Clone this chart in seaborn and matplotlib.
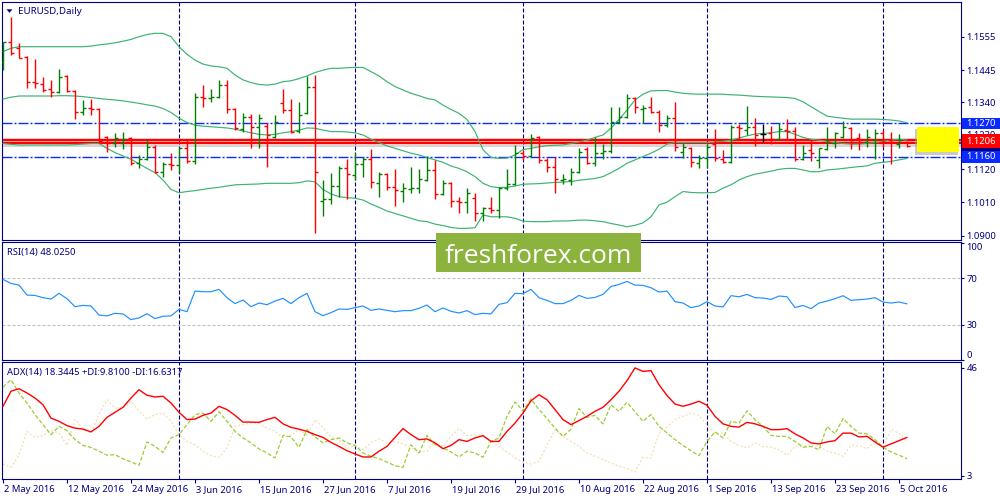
import numpy as np
import pandas as pd
import matplotlib
matplotlib.use("Agg")
import matplotlib.pyplot as plt
import matplotlib.transforms as mtransforms
from matplotlib.patches import Rectangle, Polygon
import seaborn as sns

# ---------------- data ----------------
start_date = "2016-05-02"
symbol_title = "EURUSD,Daily"

opens = [1.1472, 1.1537, 1.1518, 1.1488, 1.1406, 1.1399, 1.1383, 1.1373, 1.1426, 1.1376,
         1.1307, 1.1321, 1.1317, 1.1225, 1.1206, 1.1206, 1.1222, 1.1140, 1.1153, 1.1192,
         1.1110, 1.1137, 1.1133, 1.1189, 1.1146, 1.1357, 1.1353, 1.1357, 1.1396, 1.1317,
         1.1251, 1.1291, 1.1258, 1.1261, 1.1225, 1.1337, 1.1314, 1.1245, 1.1304, 1.1390,
         1.1015, 1.1021, 1.1064, 1.1123, 1.1100, 1.1137, 1.1153, 1.1074, 1.1104, 1.1061,
         1.1048, 1.1054, 1.1058, 1.1084, 1.1117, 1.1038, 1.1074, 1.1015, 1.1012, 1.1025,
         1.0976, 1.0992, 1.0985, 1.1058, 1.1071, 1.1173, 1.1163, 1.1225, 1.1150, 1.1127,
         1.1084, 1.1084, 1.1110, 1.1186, 1.1140, 1.1173, 1.1179, 1.1275, 1.1291, 1.1353,
         1.1317, 1.1324, 1.1307, 1.1265, 1.1288, 1.1176, 1.1189, 1.1140, 1.1156, 1.1202,
         1.1153, 1.1143, 1.1258, 1.1248, 1.1258, 1.1235, 1.1238, 1.1219, 1.1248, 1.1245,
         1.1153, 1.1183, 1.1150, 1.1186, 1.1206, 1.1225, 1.1255, 1.1222, 1.1209, 1.1215,
         1.1238, 1.1215, 1.1202, 1.1209]
highs = [1.1537, 1.1620, 1.1534, 1.1491, 1.1482, 1.1422, 1.1413, 1.1449, 1.1429, 1.1380,
         1.1347, 1.1350, 1.1320, 1.1229, 1.1238, 1.1242, 1.1225, 1.1166, 1.1215, 1.1199,
         1.1143, 1.1173, 1.1192, 1.1219, 1.1370, 1.1396, 1.1383, 1.1413, 1.1413, 1.1321,
         1.1304, 1.1301, 1.1301, 1.1271, 1.1298, 1.1383, 1.1350, 1.1340, 1.1426, 1.1429,
         1.1084, 1.1107, 1.1130, 1.1153, 1.1173, 1.1160, 1.1186, 1.1110, 1.1107, 1.1120,
         1.1074, 1.1127, 1.1120, 1.1163, 1.1150, 1.1084, 1.1077, 1.1028, 1.1058, 1.1041,
         1.0995, 1.1028, 1.1061, 1.1120, 1.1199, 1.1183, 1.1235, 1.1228, 1.1156, 1.1160,
         1.1104, 1.1123, 1.1189, 1.1192, 1.1225, 1.1202, 1.1324, 1.1324, 1.1367, 1.1357,
         1.1331, 1.1357, 1.1314, 1.1298, 1.1340, 1.1206, 1.1192, 1.1166, 1.1202, 1.1252,
         1.1183, 1.1265, 1.1268, 1.1327, 1.1288, 1.1268, 1.1261, 1.1271, 1.1284, 1.1258,
         1.1199, 1.1215, 1.1189, 1.1258, 1.1242, 1.1278, 1.1258, 1.1238, 1.1252, 1.1252,
         1.1248, 1.1242, 1.1235, 1.1212]
lows = [1.1445, 1.1495, 1.1485, 1.1386, 1.1386, 1.1373, 1.1357, 1.1370, 1.1373, 1.1284,
        1.1298, 1.1298, 1.1206, 1.1176, 1.1192, 1.1186, 1.1133, 1.1123, 1.1150, 1.1107,
        1.1094, 1.1117, 1.1107, 1.1140, 1.1137, 1.1324, 1.1340, 1.1355, 1.1304, 1.1248,
        1.1242, 1.1189, 1.1189, 1.1127, 1.1222, 1.1304, 1.1239, 1.1239, 1.1302, 1.0910,
        1.0966, 1.1005, 1.1028, 1.1021, 1.1084, 1.1094, 1.1058, 1.1028, 1.1051, 1.0998,
        1.1012, 1.1041, 1.1041, 1.1082, 1.1021, 1.1035, 1.0995, 1.0976, 1.0976, 1.0949,
        1.0949, 1.0976, 1.0959, 1.1051, 1.1069, 1.1150, 1.1160, 1.1140, 1.1110, 1.1041,
        1.1071, 1.1067, 1.1108, 1.1137, 1.1130, 1.1153, 1.1173, 1.1271, 1.1288, 1.1304,
        1.1271, 1.1304, 1.1242, 1.1258, 1.1179, 1.1156, 1.1127, 1.1123, 1.1123, 1.1146,
        1.1140, 1.1140, 1.1215, 1.1232, 1.1196, 1.1209, 1.1202, 1.1217, 1.1215, 1.1146,
        1.1150, 1.1146, 1.1123, 1.1184, 1.1189, 1.1222, 1.1186, 1.1183, 1.1192, 1.1153,
        1.1192, 1.1137, 1.1189, 1.1192]
closes = [1.1537, 1.1501, 1.1485, 1.1406, 1.1403, 1.1380, 1.1373, 1.1422, 1.1376, 1.1307,
          1.1321, 1.1317, 1.1212, 1.1206, 1.1222, 1.1219, 1.1140, 1.1153, 1.1192, 1.1110,
          1.1137, 1.1133, 1.1189, 1.1146, 1.1357, 1.1355, 1.1357, 1.1396, 1.1317, 1.1255,
          1.1291, 1.1258, 1.1288, 1.1232, 1.1275, 1.1314, 1.1242, 1.1298, 1.1390, 1.1110,
          1.1021, 1.1064, 1.1123, 1.1104, 1.1137, 1.1153, 1.1077, 1.1104, 1.1061, 1.1051,
          1.1058, 1.1058, 1.1087, 1.1117, 1.1038, 1.1074, 1.1015, 1.1012, 1.1041, 1.0976,
          1.0992, 1.0985, 1.1058, 1.1071, 1.1173, 1.1163, 1.1222, 1.1150, 1.1127, 1.1087,
          1.1087, 1.1110, 1.1176, 1.1140, 1.1173, 1.1179, 1.1275, 1.1291, 1.1353, 1.1324,
          1.1321, 1.1307, 1.1265, 1.1288, 1.1192, 1.1192, 1.1143, 1.1156, 1.1192, 1.1156,
          1.1143, 1.1258, 1.1255, 1.1258, 1.1232, 1.1235, 1.1219, 1.1252, 1.1245, 1.1153,
          1.1173, 1.1173, 1.1189, 1.1209, 1.1238, 1.1258, 1.1209, 1.1209, 1.1225, 1.1238,
          1.1209, 1.1209, 1.1215, 1.1196]

bb_upper = [1.1506, 1.1517, 1.1522, 1.1522, 1.1522, 1.1522, 1.1522, 1.1522, 1.1522, 1.1522,
            1.1522, 1.1524, 1.1528, 1.1531, 1.1535, 1.1540, 1.1546, 1.1555, 1.1562, 1.1566,
            1.1566, 1.1555, 1.1522, 1.1497, 1.1478, 1.1465, 1.1459, 1.1456, 1.1451, 1.1429,
            1.1413, 1.1404, 1.1398, 1.1396, 1.1399, 1.1407, 1.1410, 1.1417, 1.1426, 1.1437,
            1.1445, 1.1451, 1.1451, 1.1453, 1.1454, 1.1454, 1.1440, 1.1426, 1.1407, 1.1391,
            1.1380, 1.1369, 1.1361, 1.1352, 1.1347, 1.1330, 1.1316, 1.1303, 1.1283, 1.1243,
            1.1183, 1.1158, 1.1155, 1.1156, 1.1166, 1.1184, 1.1188, 1.1193, 1.1197, 1.1198,
            1.1199, 1.1204, 1.1209, 1.1215, 1.1224, 1.1232, 1.1254, 1.1283, 1.1314, 1.1347,
            1.1366, 1.1377, 1.1378, 1.1378, 1.1373, 1.1369, 1.1367, 1.1366, 1.1366, 1.1366,
            1.1366, 1.1364, 1.1363, 1.1361, 1.1359, 1.1358, 1.1357, 1.1356, 1.1355, 1.1352,
            1.1341, 1.1325, 1.1309, 1.1294, 1.1290, 1.1287, 1.1284, 1.1284, 1.1284, 1.1284,
            1.1283, 1.1281, 1.1278, 1.1272]
bb_mid = [1.1350, 1.1356, 1.1360, 1.1360, 1.1360, 1.1360, 1.1360, 1.1361, 1.1361, 1.1360,
          1.1358, 1.1355, 1.1352, 1.1349, 1.1347, 1.1344, 1.1340, 1.1336, 1.1331, 1.1327,
          1.1319, 1.1306, 1.1287, 1.1273, 1.1264, 1.1261, 1.1259, 1.1257, 1.1255, 1.1251,
          1.1245, 1.1239, 1.1234, 1.1232, 1.1234, 1.1239, 1.1243, 1.1248, 1.1255, 1.1254,
          1.1248, 1.1243, 1.1243, 1.1242, 1.1239, 1.1232, 1.1218, 1.1207, 1.1196, 1.1188,
          1.1180, 1.1172, 1.1166, 1.1158, 1.1150, 1.1142, 1.1130, 1.1122, 1.1111, 1.1095,
          1.1073, 1.1062, 1.1059, 1.1060, 1.1064, 1.1070, 1.1071, 1.1072, 1.1074, 1.1076,
          1.1077, 1.1079, 1.1083, 1.1086, 1.1089, 1.1095, 1.1108, 1.1122, 1.1139, 1.1150,
          1.1161, 1.1172, 1.1185, 1.1202, 1.1207, 1.1207, 1.1207, 1.1207, 1.1207, 1.1209,
          1.1211, 1.1215, 1.1222, 1.1229, 1.1235, 1.1237, 1.1239, 1.1243, 1.1243, 1.1234,
          1.1224, 1.1218, 1.1215, 1.1211, 1.1207, 1.1204, 1.1202, 1.1202, 1.1204, 1.1207,
          1.1211, 1.1215, 1.1218, 1.1215]
bb_lower = [1.1204, 1.1201, 1.1199, 1.1199, 1.1199, 1.1199, 1.1199, 1.1199, 1.1199, 1.1200,
            1.1202, 1.1204, 1.1204, 1.1188, 1.1174, 1.1163, 1.1152, 1.1137, 1.1122, 1.1108,
            1.1084, 1.1053, 1.1042, 1.1046, 1.1049, 1.1053, 1.1057, 1.1060, 1.1064, 1.1068,
            1.1069, 1.1070, 1.1071, 1.1073, 1.1073, 1.1073, 1.1073, 1.1075, 1.1081, 1.1078,
            1.1053, 1.1038, 1.1029, 1.1026, 1.1024, 1.1018, 1.1005, 1.0994, 1.0982, 1.0974,
            1.0966, 1.0958, 1.0950, 1.0947, 1.0939, 1.0934, 1.0928, 1.0925, 1.0925, 1.0927,
            1.0969, 1.0963, 1.0963, 1.0963, 1.0958, 1.0949, 1.0947, 1.0947, 1.0947, 1.0949,
            1.0949, 1.0950, 1.0952, 1.0952, 1.0950, 1.0947, 1.0941, 1.0936, 1.0930, 1.0935,
            1.0943, 1.0963, 1.1002, 1.1011, 1.1029, 1.1046, 1.1043, 1.1042, 1.1042, 1.1043,
            1.1057, 1.1068, 1.1084, 1.1095, 1.1103, 1.1108, 1.1113, 1.1119, 1.1122, 1.1122,
            1.1117, 1.1111, 1.1111, 1.1117, 1.1119, 1.1122, 1.1125, 1.1128, 1.1130, 1.1139,
            1.1142, 1.1145, 1.1150, 1.1155]

rsi_values = [68.9, 65.5, 64.0, 55.5, 55.2, 53.3, 52.1, 57.0, 52.4, 45.6,
              46.7, 46.2, 38.5, 37.7, 39.9, 39.4, 34.5, 36.0, 39.6, 35.4,
              37.4, 37.7, 43.3, 41.3, 58.9, 58.4, 58.4, 60.4, 53.3, 48.2,
              51.3, 45.6, 48.7, 47.3, 50.4, 52.7, 48.2, 53.3, 57.0, 41.3,
              37.9, 40.5, 43.6, 43.3, 44.8, 46.2, 42.5, 43.6, 42.5, 41.3,
              42.2, 42.2, 44.2, 47.0, 41.3, 44.5, 41.6, 40.2, 42.2, 38.8,
              39.9, 39.4, 47.6, 49.0, 57.0, 56.7, 60.4, 53.3, 51.0, 48.2,
              48.2, 51.0, 55.2, 52.7, 53.5, 56.1, 62.9, 64.6, 67.2, 64.0,
              63.8, 61.8, 58.1, 58.9, 49.9, 48.7, 44.8, 46.2, 49.9, 46.2,
              45.3, 55.0, 54.1, 56.1, 53.3, 53.0, 51.8, 54.7, 54.1, 44.8,
              46.7, 43.9, 48.7, 50.4, 52.4, 55.0, 51.0, 51.6, 52.1, 53.3,
              49.6, 48.7, 49.6, 48.0]

adx_values = [30.7, 36.7, 37.7, 36.0, 34.0, 31.3, 26.0, 24.7, 23.0, 22.0,
              21.6, 20.5, 22.7, 26.3, 28.3, 30.3, 34.0, 37.3, 35.1, 34.4,
              34.7, 32.0, 28.3, 25.4, 25.6, 27.1, 28.0, 30.7, 29.4, 27.1,
              24.4, 24.4, 24.3, 25.4, 26.3, 23.7, 22.3, 21.6, 20.7, 19.4,
              18.3, 16.3, 14.7, 13.0, 11.7, 10.5, 10.5, 12.8, 14.7, 18.3,
              21.8, 19.4, 17.4, 17.7, 16.1, 13.8, 15.1, 17.4, 16.7, 18.1,
              19.0, 16.7, 16.7, 20.7, 24.0, 28.0, 32.9, 35.3, 33.3, 29.4,
              25.4, 23.4, 25.0, 26.7, 28.7, 30.3, 33.3, 36.7, 40.9, 46.0,
              44.6, 44.9, 39.3, 35.0, 31.6, 30.7, 31.6, 32.7, 31.1, 26.7,
              23.7, 22.7, 22.4, 24.3, 23.7, 22.7, 21.4, 21.4, 21.8, 19.7,
              18.1, 16.1, 15.7, 16.5, 17.0, 20.0, 20.0, 18.5, 18.7, 16.5,
              14.4, 15.7, 17.0, 18.3]
plus_di = [38.3, 41.3, 36.0, 32.0, 27.4, 23.4, 19.4, 22.7, 21.0, 17.4,
           15.1, 14.3, 12.8, 11.2, 11.4, 9.8, 8.5, 7.2, 16.5, 14.7,
           12.3, 18.1, 19.4, 23.4, 27.4, 28.0, 24.7, 28.5, 24.7, 20.7,
           18.1, 16.1, 13.7, 12.1, 10.1, 19.1, 18.5, 14.3, 21.4, 18.5,
           16.1, 17.4, 18.1, 16.1, 15.1, 12.1, 10.8, 9.8, 8.5, 7.0,
           6.4, 15.4, 12.1, 19.1, 15.4, 14.1, 12.5, 10.5, 12.8, 12.1,
           10.4, 16.7, 18.1, 26.7, 32.4, 28.9, 33.6, 29.4, 25.8, 22.0,
           18.7, 21.6, 29.8, 26.3, 27.1, 23.7, 31.3, 28.7, 32.3, 28.5,
           24.7, 27.4, 22.7, 20.1, 17.4, 15.1, 13.0, 11.0, 16.7, 20.5,
           18.1, 24.7, 24.0, 28.9, 25.4, 22.7, 19.1, 18.7, 18.7, 16.7,
           14.4, 14.7, 13.4, 22.7, 19.7, 25.8, 22.7, 20.0, 19.7, 17.4,
           14.4, 12.5, 11.2, 9.8]
minus_di = [7.7, 6.4, 11.4, 20.7, 18.3, 19.1, 21.0, 20.0, 15.1, 25.4,
            21.8, 20.0, 27.6, 33.3, 30.0, 30.0, 32.7, 28.9, 25.6, 27.4,
            28.0, 24.7, 19.4, 16.7, 15.4, 12.8, 11.0, 10.4, 14.1, 22.7,
            23.4, 24.0, 24.0, 22.0, 20.7, 18.1, 19.1, 21.4, 19.1, 25.4,
            22.3, 18.3, 17.4, 13.8, 15.1, 13.4, 16.1, 17.8, 16.1, 16.7,
            15.7, 14.1, 12.5, 12.8, 16.7, 14.7, 18.7, 21.8, 19.1, 19.4,
            19.1, 16.7, 14.7, 12.5, 10.1, 8.5, 7.7, 8.8, 15.1, 21.4,
            18.7, 16.7, 14.7, 12.1, 10.8, 9.5, 8.1, 6.8, 5.8, 4.5,
            10.4, 10.1, 20.0, 22.5, 25.4, 26.7, 28.0, 27.1, 23.4, 20.0,
            20.0, 16.7, 15.1, 14.1, 16.1, 14.7, 14.4, 13.4, 11.2, 14.7,
            14.7, 15.4, 14.7, 12.8, 12.1, 10.8, 15.1, 15.1, 13.8, 16.5,
            14.4, 21.4, 20.0, 16.6]

price_ticks = [1.1555, 1.1445, 1.1340, 1.1230, 1.1120, 1.1010, 1.0900]
hidden_price_tick = 1.1230
rsi_ticks = [100, 70, 30, 0]
rsi_levels = [70, 30]
adx_ticks = [46, 3]
blue_levels = [1.1270, 1.1160]
red_levels = [1.1216, 1.1206]
red_label = "1.1206"
zone_bars = (114.2, 119.5)
zone_prices = (1.1175, 1.1259)
rsi_caption = "RSI(14) 48.0250"
adx_caption = "ADX(14) 18.3445 +DI:9.8100 -DI:16.6317"
watermark = "freshforex.com"

n = len(closes)
assert all(len(a) == n for a in [opens, highs, lows, bb_upper, bb_mid, bb_lower,
                                  rsi_values, adx_values, plus_di, minus_di])

# ---------------- style ----------------
sns.set_style("white")
plt.rcParams['font.family'] = ['Noto Sans', 'DejaVu Sans']
plt.rcParams['lines.scale_dashes'] = False
plt.rcParams['axes.unicode_minus'] = False

NAVY = '#000080'
FS = 6.8
W, H = 1000, 500

dates = pd.bdate_range(start_date, periods=n)
idx = np.arange(n)
month_starts = [i for i in range(1, n) if dates[i].month != dates[i - 1].month]
tick_pos = idx[::8]
tick_labels = [f"{d.day} {d:%b %Y}" for d in dates[::8]]

fig = plt.figure(figsize=(10, 5), dpi=100)
fig.patch.set_facecolor('white')


def px_axes(x0, y0, x1, y1):
    return fig.add_axes([x0 / W, 1 - y1 / H, (x1 - x0) / W, (y1 - y0) / H])


ax_p = px_axes(2, 2, 961, 240)
ax_r = px_axes(2, 242, 961, 360)
ax_a = px_axes(2, 362, 961, 478.7)

x_range = (-0.125, 119.75)
price_range = (1.08867, 1.16690)
rsi_range = (0.47, 100.9)
adx_range = (1.84, 48.35)

# ---------------- price panel ----------------
for band in (bb_upper, bb_mid, bb_lower):
    sns.lineplot(x=idx, y=band, ax=ax_p, color='#3CB371', linewidth=0.85,
                 estimator=None, sort=False, zorder=3)

for lv in blue_levels:
    ax_p.axhline(lv, color='#0A2AFF', lw=1.0, dashes=(7.2, 1.44, 1.44, 1.44), zorder=2)
ax_p.axhline(closes[-1], color='#CFCFCF', lw=1.2, zorder=1)
for lv in red_levels:
    ax_p.axhline(lv, color='#FF0000', lw=1.75, zorder=2.5)

bar_colors = ['#008000' if c > o else ('#FF0000' if c < o else '#000000')
              for o, c in zip(opens, closes)]
ax_p.vlines(idx, lows, highs, colors=bar_colors, lw=1.0, zorder=4)
ax_p.hlines(opens, idx - 0.4, idx, colors=bar_colors, lw=1.0, zorder=4)
ax_p.hlines(closes, idx, idx + 0.4, colors=bar_colors, lw=1.0, zorder=4)

# yellow zone with soft shadow
ax_p.add_patch(Rectangle((zone_bars[0] - 0.15, zone_prices[0] - 0.0009),
                         zone_bars[1] - zone_bars[0], zone_prices[1] - zone_prices[0],
                         facecolor='#A0A0A0', alpha=0.55, edgecolor='none', zorder=5))
ax_p.add_patch(Rectangle((zone_bars[0], zone_prices[0]),
                         zone_bars[1] - zone_bars[0], zone_prices[1] - zone_prices[0],
                         facecolor='#FFFF00', edgecolor='none', zorder=6))

ax_p.text((18.3 - 2) / 959, 1 - (11 - 2) / 238, symbol_title, transform=ax_p.transAxes,
          color=NAVY, fontsize=FS + 0.2, ha='left', va='center')
fig.add_artist(Polygon([(6.5 / W, 1 - 9.3 / H), (12.5 / W, 1 - 9.3 / H), (9.5 / W, 1 - 12.8 / H)],
                       closed=True, transform=fig.transFigure, facecolor=NAVY, edgecolor='none'))

ax_p.set_ylim(*price_range)
ax_p.set_yticks(price_ticks)
ax_p.set_yticklabels(["" if v == hidden_price_tick else f"{v:.4f}" for v in price_ticks])

# ---------------- RSI panel ----------------
sns.lineplot(x=idx, y=rsi_values, ax=ax_r, color='#1E90FF', linewidth=0.85,
             estimator=None, sort=False, zorder=3)
for lv in rsi_levels:
    ax_r.axhline(lv, color='#C0C0C0', lw=0.8, dashes=(2.16, 1.44), zorder=1)
ax_r.text((7.3 - 2) / 959, 1 - (252 - 242) / 118, rsi_caption, transform=ax_r.transAxes,
          color=NAVY, fontsize=FS, ha='left', va='center')
ax_r.set_ylim(*rsi_range)
ax_r.set_yticks(rsi_ticks)
ax_r.set_yticklabels([str(v) for v in rsi_ticks])

# ---------------- ADX panel ----------------
sns.lineplot(x=idx, y=minus_di, ax=ax_a, color='#F5DEB3', linewidth=0.9,
             estimator=None, sort=False, zorder=2)
ax_a.get_lines()[-1].set_dashes((1.44, 1.44))
sns.lineplot(x=idx, y=plus_di, ax=ax_a, color='#9ACD32', linewidth=0.9,
             estimator=None, sort=False, zorder=3)
ax_a.get_lines()[-1].set_dashes((2.9, 1.44))
sns.lineplot(x=idx, y=adx_values, ax=ax_a, color='#FF0000', linewidth=1.0,
             estimator=None, sort=False, zorder=4)
ax_a.text((7.3 - 2) / 959, 1 - (372 - 362) / 116.7, adx_caption, transform=ax_a.transAxes,
          color=NAVY, fontsize=FS, ha='left', va='center')
ax_a.set_ylim(*adx_range)
ax_a.set_yticks(adx_ticks)
ax_a.set_yticklabels([str(v) for v in adx_ticks])

# ---------------- common axes styling ----------------
for ax in (ax_p, ax_r, ax_a):
    ax.set_facecolor('white')
    ax.set_xlim(*x_range)
    ax.set_xlabel('')
    ax.set_ylabel('')
    for m in month_starts:
        ax.axvline(m, color=NAVY, lw=0.8, dashes=(2.88, 1.44), zorder=1.5)
    for s in ax.spines.values():
        s.set_color(NAVY)
        s.set_linewidth(0.8)
        s.set_visible(True)
    ax.yaxis.tick_right()
    ax.tick_params(axis='y', left=False, right=True, labelleft=False, labelright=True,
                   length=2.5, width=0.8, color=NAVY, labelcolor=NAVY, labelsize=FS, pad=1.5)
    ax.grid(False)

for ax in (ax_p, ax_r):
    ax.tick_params(axis='x', bottom=False, labelbottom=False)

rl = ax_r.get_yticklabels()
rl[0].set_va('top')
rl[-1].set_va('bottom')

ax_a.set_xticks(tick_pos)
ax_a.set_xticklabels(tick_labels, ha='left')
ax_a.tick_params(axis='x', bottom=True, length=3, width=0.8, color=NAVY, labelcolor=NAVY,
                 labelsize=FS, pad=1.5)
offset = mtransforms.ScaledTranslation(1 / 100, 0, fig.dpi_scale_trans)
for lbl in ax_a.get_xticklabels():
    lbl.set_transform(lbl.get_transform() + offset)

# ---------------- right-axis price labels ----------------
tr = mtransforms.blended_transform_factory(fig.transFigure, ax_p.transData)
ppx = (price_range[1] - price_range[0]) / 238.0

# the price-scale label that is mostly hidden behind the coloured boxes:
# only the strip between the 1.1270 and 1.1206 boxes stays visible
hidden_txt = plt.Text(966 / W, hidden_price_tick, f"{hidden_price_tick:.4f}", transform=tr,
                      color=NAVY, fontsize=FS, ha='left', va='center', zorder=5)
hidden_txt.set_clip_box(mtransforms.Bbox([[961, H - 134.0], [1000, H - 127.4]]))
hidden_txt.set_clip_on(True)
fig.add_artist(hidden_txt)


def axis_box(center, color, height_px, text=None, z=6):
    h = height_px * ppx
    fig.add_artist(Rectangle((962 / W, center - h / 2), 38 / W, h, transform=tr,
                             facecolor=color, edgecolor='none', zorder=z))
    if text:
        fig.add_artist(plt.Text(966 / W, center, text, transform=tr, color='white',
                                fontsize=FS, ha='left', va='center', zorder=z + 0.5))


axis_box(blue_levels[0], '#0A2AFF', 10.6, f"{blue_levels[0]:.4f}", 6)
axis_box(blue_levels[1], '#0A2AFF', 11.4, None, 6)
axis_box(closes[-1], NAVY, 10.6, None, 6.2)
fig.add_artist(plt.Text(966 / W, blue_levels[1], f"{blue_levels[1]:.4f}", transform=tr,
                        color='white', fontsize=FS, ha='left', va='center', zorder=6.3))
axis_box(float(np.mean(red_levels)), '#FF0000', 14.3, red_label, 7)

# ---------------- watermark ----------------
fig.add_artist(Rectangle((436 / W, 1 - 272 / H), (641 - 436) / W, (272 - 233) / H,
                         transform=fig.transFigure, facecolor='#8DB33F', edgecolor='none',
                         zorder=10))
fig.text(538.5 / W, 1 - 263 / H, watermark, color='white', fontsize=19,
         family=['Open Sans', 'DejaVu Sans'], ha='center', va='baseline', zorder=11)

fig.savefig('out.png', dpi=100, facecolor='white')
